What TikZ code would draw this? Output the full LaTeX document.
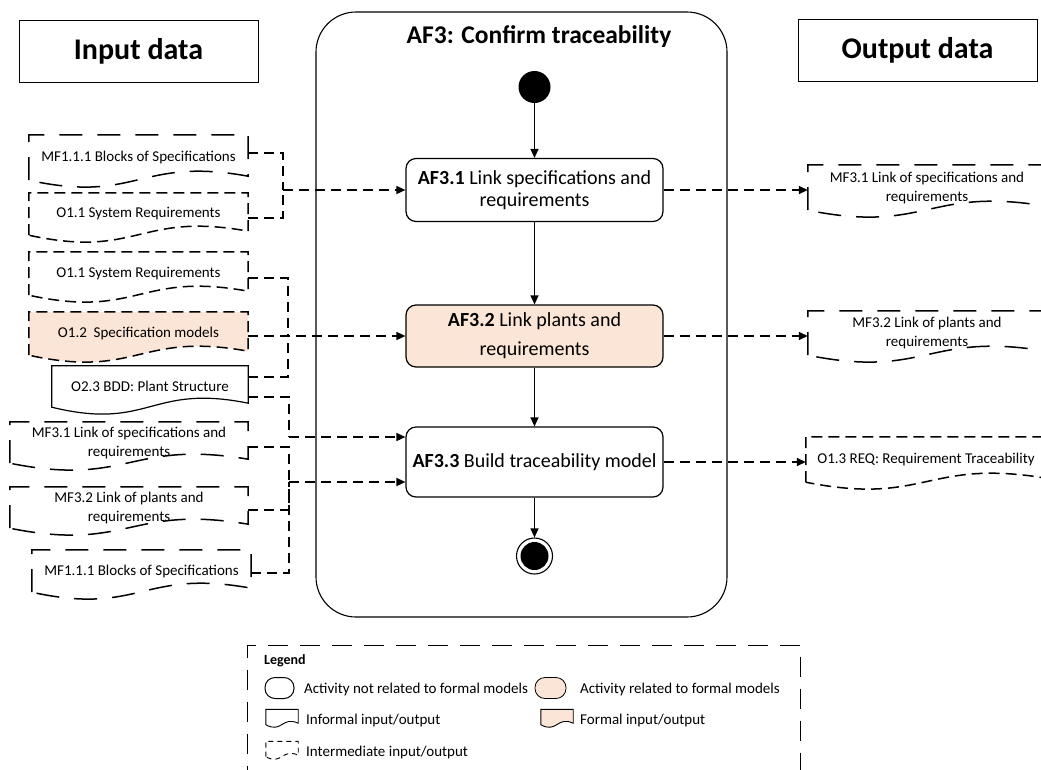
\documentclass[tikz,border=0pt]{standalone}
\usepackage{fontspec}
\setmainfont{Carlito}
\usetikzlibrary{arrows.meta,calc}
\definecolor{peach}{HTML}{FBE5D6}
\pgfdeclarelayer{background}
\pgfsetlayers{background,main}
\newcommand{\docshape}[4]{%
  \draw[#2] (#1.south west) -- (#1.north west) -- (#1.north east) -- ($(#1.south east)+(0,-#3)$) .. controls ($(#1.south)+(0,-#4)$) and ($(#1.south)+(0,#4)$) .. (#1.south west) -- cycle;}
\begin{document}
\begin{tikzpicture}[x=1pt,y=-1pt,
 hdr/.style={draw, line width=1pt, minimum width=239pt, minimum height=62pt, font=\fontsize{30}{36}\selectfont\bfseries},
 act/.style={draw, line width=1.2pt, rounded corners=10pt, minimum width=257pt, inner sep=3pt, align=center, font=\fontsize{20}{22}\selectfont},
 docn/.style={rectangle, inner sep=0pt, align=center, font=\fontsize{15}{19}\selectfont},
 conn/.style={line width=1.5pt, dash pattern=on 10pt off 6pt},
 tip/.style={-{Triangle[length=9pt,width=8pt]}},
 flow/.style={line width=1.2pt, tip},
 longdash/.style={line width=1.5pt, dash pattern=on 23pt off 15pt},
 shortdash/.style={line width=1.5pt, dash pattern=on 11pt off 6pt},
 solidoc/.style={line width=1.2pt},
 legtxt/.style={anchor=west, inner sep=0pt, font=\fontsize{15}{18}\selectfont},
]
\useasboundingbox (0,0) rectangle (1041,769);
\clip (0,0) rectangle (1041,769);

% headers
\node[hdr] (inhdr) at (138.5,51) {Input data};
\node[hdr] (outhdr) at (917.5,50.5) {Output data};

% frame
\node[draw, line width=1.1pt, rounded corners=40pt, minimum width=411pt, minimum height=605pt, inner sep=0pt] (frame) at (521.5,314.5) {};
\node[font=\fontsize{25.5}{30}\selectfont\bfseries] (title) at (539,37) {AF3: Confirm traceability};

% activities
\node[circle, fill=black, minimum size=32pt, inner sep=0pt] (start) at (534.5,87) {};
\node[act, minimum height=63pt] (a1) at (534.5,190) {\textbf{AF3.1} Link specifications and\\requirements};
\node[act, minimum height=62pt, fill=peach] (a2) at (534.5,336) {\textbf{AF3.2} Link plants and\\[7pt]requirements};
\node[act, minimum height=70pt] (a3) at (534.5,462) {\textbf{AF3.3} Build traceability model};
\node[circle, draw, line width=1.1pt, minimum size=36pt, inner sep=0pt] (end) at (534.5,556) {};
\fill (end.center) circle[radius=14pt];

\draw[flow] (start) -- (a1);
\draw[flow] (a1) -- (a2);
\draw[flow] (a2) -- (a3);
\draw[flow] (a3) -- (end);

% input documents
\node[docn, minimum width=219pt, minimum height=45pt] (d1) at (138.5,157.5) {MF1.1.1 Blocks of Specifications};
\node[docn, minimum width=219pt, minimum height=42pt] (d2) at (138.5,214) {O1.1 System Requirements};
\node[docn, minimum width=219pt, minimum height=43pt] (d3) at (138.5,273.5) {O1.1 System Requirements};
\node[docn, minimum width=219pt, minimum height=43pt] (d4) at (138.5,333.5) {O1.2\ \ Specification models};
\node[docn, minimum width=196pt, minimum height=41pt] (d5) at (150,386.5) {O2.3 BDD: Plant Structure};
\node[docn, minimum width=238pt, minimum height=41pt] (d6) at (129,442.5) {MF3.1 Link of specifications and\\requirements};
\node[docn, minimum width=238pt, minimum height=41pt] (d7) at (129,507.5) {MF3.2 Link of plants and\\requirements};
\node[docn, minimum width=219pt, minimum height=42pt] (d8) at (141.5,571) {MF1.1.1 Blocks of Specifications};

% output documents
\node[docn, minimum width=238pt, minimum height=45pt] (o1) at (927,187.5) {MF3.1 Link of specifications and\\requirements};
\node[docn, minimum width=238pt, minimum height=44pt] (o2) at (927,333) {MF3.2 Link of plants and\\requirements};
\node[docn, minimum width=240pt, minimum height=45pt] (o3) at (926,459.5) {O1.3 REQ: Requirement Traceability};

\begin{pgfonlayer}{background}
\docshape{d1}{longdash}{4}{24}
\docshape{d2}{shortdash}{4}{24}
\docshape{d3}{shortdash}{4}{24}
\docshape{d4}{shortdash, fill=peach}{4}{24}
\docshape{d5}{solidoc, fill=white}{4}{24}
\docshape{d6}{longdash}{4}{24}
\docshape{d7}{longdash}{4}{24}
\docshape{d8}{longdash}{4}{24}
\docshape{o1}{longdash}{4}{24}
\docshape{o2}{longdash}{4}{24}
\docshape{o3}{shortdash}{4}{24}
\end{pgfonlayer}

% input connectors
\coordinate (j1) at (283,190);
\draw[conn] ($(d1.east)+(0,-4.5)$) -| (j1);
\draw[conn] ($(d2.east)+(0,4)$) -| (j1);
\draw[conn,tip] (j1) -- (a1.west);

\coordinate (j2) at (288,336);
\draw[conn] ($(d3.east)+(0,4.5)$) -| (j2);
\draw[conn] ($(d5.east)+(0,-9.5)$) -| (j2);
\draw[conn,tip] (d4.east |- a2.west) -- (a2.west);

\coordinate (j3) at (289,437);
\draw[conn] ($(d5.east)+(0,10.5)$) -| (j3);
\draw[conn,tip] (j3) -- (j3 -| a3.west);

\coordinate (j4) at (289,482);
\draw[conn] ($(d6.east)+(0,4.5)$) -| (j4);
\draw[conn] ($(d7.east)+(0,2.5)$) -| (j4);
\draw[conn] ($(d8.east)+(0,2)$) -| (j4);
\draw[conn,tip] (j4) -- (j4 -| a3.west);

% output connectors
\draw[conn,tip] (a1.east) -- (a1.east -| o1.west);
\draw[conn,tip] (a2.east) -- (a2.east -| o2.west);
\draw[conn,tip] (a3.east) -- (a3.east -| o3.west);

% legend
\node[draw, line width=1pt, dash pattern=on 20pt off 12pt, minimum width=553pt, minimum height=150pt, anchor=north west, inner sep=0pt] (leg) at (247,645) {};
\node[anchor=west, inner sep=0pt, font=\fontsize{14}{16}\selectfont\bfseries] (legt) at (264,661) {Legend};
\node[draw, line width=1pt, rounded corners=10pt, minimum width=29pt, minimum height=21pt, inner sep=0pt] (ls1) at (279.5,688) {};
\node[legtxt] (lt1) at (304,689) {Activity not related to formal models};
\node[draw, line width=0.8pt, fill=peach, rounded corners=10pt, minimum width=31pt, minimum height=21pt, inner sep=0pt] (ls2) at (550.5,688) {};
\node[legtxt] (lt2) at (580,689) {Activity related to formal models};
\node[docn, minimum width=32pt, minimum height=15pt] (li1) at (282,717) {};
\node[legtxt] (lt3) at (306,720) {Informal input/output};
\node[docn, minimum width=32pt, minimum height=15pt] (li2) at (557,717) {};
\node[legtxt] (lt4) at (580,720) {Formal input/output};
\node[docn, minimum width=32pt, minimum height=15pt] (li3) at (282,749) {};
\node[legtxt] (lt5) at (306,752) {Intermediate input/output};
\docshape{li1}{line width=0.9pt}{1.5}{9}
\docshape{li2}{line width=0.9pt, fill=peach}{1.5}{9}
\docshape{li3}{line width=0.9pt, dash pattern=on 5pt off 4pt}{1.5}{9}
\end{tikzpicture}
\end{document}
